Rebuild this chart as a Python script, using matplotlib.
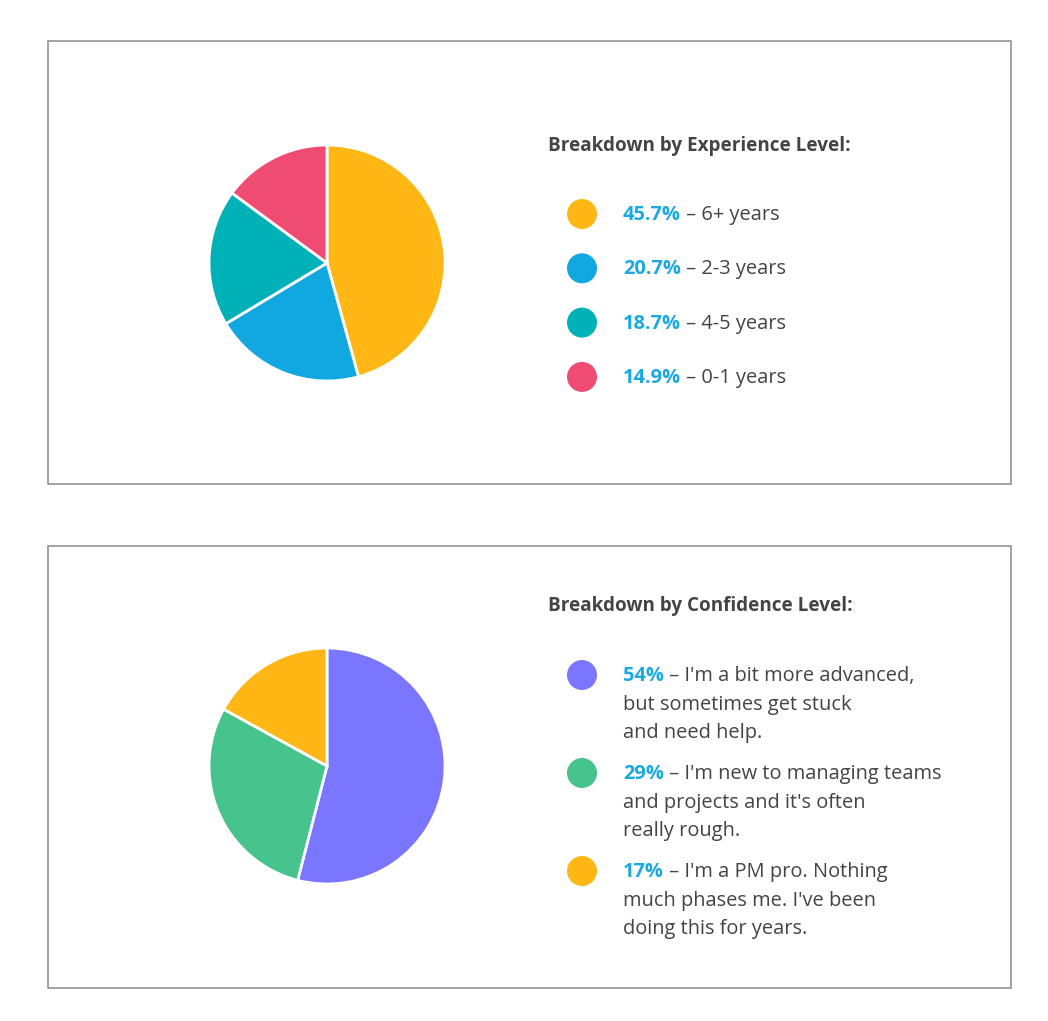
import matplotlib
matplotlib.use('Agg')
import matplotlib.pyplot as plt
from matplotlib.patches import Rectangle, Circle

plt.rcParams['font.family'] = ['Open Sans', 'DejaVu Sans']

# ---- dados ----
exp_title = 'Breakdown by Experience Level:'
exp_values = [45.7, 20.7, 18.7, 14.9]
exp_pct = ['45.7%', '20.7%', '18.7%', '14.9%']
exp_labels = ['6+ years', '2-3 years', '4-5 years', '0-1 years']
exp_colors = ['#FFB715', '#11A8E1', '#00B2B8', '#F04B72']

conf_title = 'Breakdown by Confidence Level:'
conf_values = [54, 29, 17]
conf_pct = ['54%', '29%', '17%']
conf_labels = [
    ["I'm a bit more advanced,", 'but sometimes get stuck', 'and need help.'],
    ["I'm new to managing teams", "and projects and it's often", 'really rough.'],
    ["I'm a PM pro. Nothing", "much phases me. I've been", 'doing this for years.'],
]
conf_colors = ['#7A76FF', '#47C38D', '#FFB715']

W, H = 1048, 1021
fig = plt.figure(figsize=(W / 100, H / 100), dpi=100)
fig.patch.set_facecolor('white')

# camada de overlay em pixels
ov = fig.add_axes([0, 0, 1, 1])
ov.set_xlim(0, W)
ov.set_ylim(H, 0)
ov.axis('off')

TXT = '#444444'
PCT = '#1BA9E1'
FS = 14.4
FS_TIT = 13.6

# caixas
for y0, y1 in [(41, 484), (546, 988)]:
    ov.add_patch(Rectangle((48, y0), 1011 - 48, y1 - y0, fill=False,
                           ec='#8a8a8a', lw=1.1))


def pizza(cx, cy, r, valores, cores):
    pad = 1.03
    ax = fig.add_axes([(cx - r * pad) / W, (H - cy - r * pad) / H,
                       2 * r * pad / W, 2 * r * pad / H])
    ax.pie(valores, colors=cores, startangle=90, counterclock=False,
           wedgeprops=dict(edgecolor='white', linewidth=2))
    ax.set_xlim(-pad, pad)
    ax.set_ylim(-pad, pad)
    ax.set_aspect('equal')


def linha(x, y, pct, resto):
    t = ov.text(x, y, pct, color=PCT, fontsize=FS, fontweight='bold',
                ha='left', va='baseline')
    ov.annotate(' \u2013 ' + resto, xy=(1, 0), xycoords=t, color=TXT,
                fontsize=FS, ha='left', va='bottom')


# ---- grafico 1 ----
pizza(327, 263, 118, exp_values, exp_colors)
ov.text(548, 151, exp_title, color=TXT, fontsize=FS_TIT, fontweight='bold',
        ha='left', va='baseline')
for i, (p, lab, c) in enumerate(zip(exp_pct, exp_labels, exp_colors)):
    y = 214 + i * 54.3
    ov.add_patch(Circle((582, y), 15, color=c, lw=0))
    linha(623, y + 6, p, lab)

# ---- grafico 2 ----
pizza(327, 766, 118, conf_values, conf_colors)
ov.text(548, 611, conf_title, color=TXT, fontsize=FS_TIT, fontweight='bold',
        ha='left', va='baseline')
for i, (p, linhas, c) in enumerate(zip(conf_pct, conf_labels, conf_colors)):
    y = 675 + i * 98
    ov.add_patch(Circle((582, y), 15, color=c, lw=0))
    linha(623, y + 6, p, linhas[0])
    for j, txt in enumerate(linhas[1:], start=1):
        ov.text(623, y + 6 + j * 28.5, txt, color=TXT, fontsize=FS,
                ha='left', va='baseline')

fig.savefig('out.png', dpi=100, facecolor='white')
